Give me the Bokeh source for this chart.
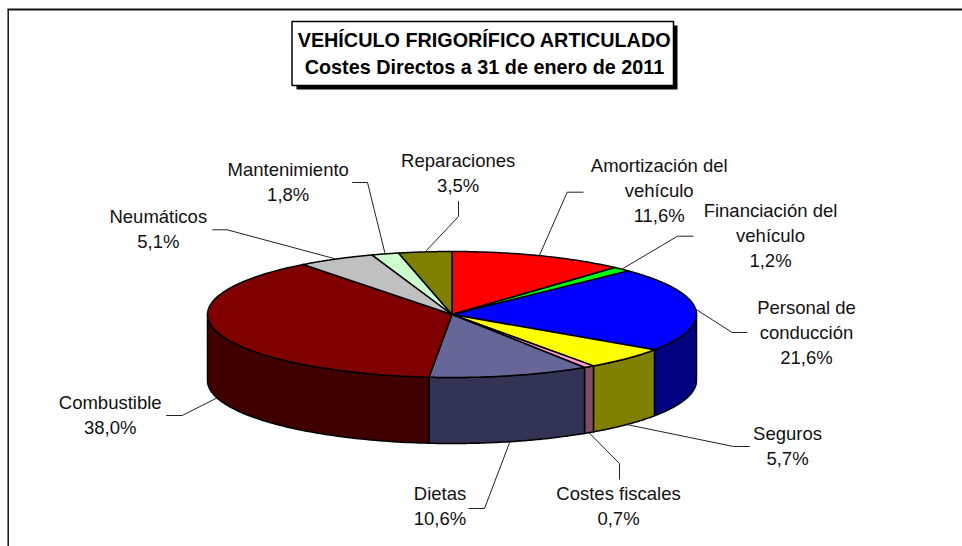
import numpy as np
from bokeh.plotting import figure
from bokeh.models import Range1d
from bokeh.core.properties import value
from bokeh.embed import file_html
from bokeh.resources import INLINE

# Data
categories = ["Amortización del vehículo", "Financiación del vehículo", "Personal de conducción",
              "Seguros", "Costes fiscales", "Dietas", "Combustible", "Neumáticos",
              "Mantenimiento", "Reparaciones"]
shares = [11.6, 1.2, 21.6, 5.7, 0.7, 10.6, 38.0, 5.1, 1.8, 3.5]
share_labels = ["11,6%", "1,2%", "21,6%", "5,7%", "0,7%", "10,6%", "38,0%", "5,1%", "1,8%", "3,5%"]
label_lines = [["Amortización del", "vehículo"], ["Financiación del", "vehículo"],
               ["Personal de", "conducción"], ["Seguros"], ["Costes fiscales"], ["Dietas"],
               ["Combustible"], ["Neumáticos"], ["Mantenimiento"], ["Reparaciones"]]
title_lines = ["VEHÍCULO FRIGORÍFICO ARTICULADO", "Costes Directos a 31 de enero de 2011"]

# Styles
top_colors = ["#ff0000", "#00ff00", "#0000ff", "#ffff00", "#ff99cc", "#666699", "#800000", "#c0c0c0", "#ccffcc", "#808000"]
side_colors = ["#800000", "#008000", "#000080", "#808000", "#804d66", "#333355", "#400000", "#606060", "#668066", "#404000"]

# Layout (page pixels)
CX, CY, RX, RY, DEPTH = 451.5, 314.0, 244.5, 63.0, 66.0
label_x = [658.7, 770, 806, 787, 618, 439.5, 109.7, 157.8, 287.7, 457.7]
label_y = [165, 210, 307, 433, 493, 493, 402, 216, 169, 160]
LINE_H = 25
elbows = [(566.7, 191.7, 583), (677, 235.7, 693), (731.7, 332, 746.7), (733, 446, 749.3),
          (619, 463, 619), (484, 508, 468), (181.7, 415, 165.7), (226.7, 229.3, 211.7),
          (367, 182, 351.7), (458, 216, 458)]
ends_y = [191.7, 235.7, 332, 446, 479, 508, 415, 229.3, 182, 200.7]

p = figure(width=962, height=546, output_backend="svg", toolbar_location=None,
           x_range=Range1d(0, 962), y_range=Range1d(546, 0), min_border=0,
           outline_line_color=None, background_fill_color="#ffffff", border_fill_color="#ffffff")
p.axis.visible = False
p.grid.visible = False

# Frame
p.line([7.7, 7.7], [546, 9], line_color="#111111", line_width=1.5)
p.line([7, 962], [9, 9], line_color="#111111", line_width=2)

# Angles clockwise from 12 o'clock
vals = np.array(shares, dtype=float)
edges = np.concatenate([[0], np.cumsum(vals)]) / vals.sum() * 2 * np.pi
ex = lambda a: CX + RX * np.sin(a)
ey = lambda a: CY - RY * np.cos(a)

# Walls (front half only)
for i in range(len(vals)):
    a0, a1 = max(edges[i], np.pi / 2), min(edges[i + 1], 3 * np.pi / 2)
    if a1 <= a0:
        continue
    t = np.linspace(a0, a1, 80)
    xs = np.concatenate([ex(t), ex(t[::-1])])
    ys = np.concatenate([ey(t), ey(t[::-1]) + DEPTH])
    p.patch(xs, ys, fill_color=side_colors[i], line_color="#000000", line_width=1.5, line_join="round")

# Top slices
for i in range(len(vals)):
    t = np.linspace(edges[i], edges[i + 1], 60)
    xs = np.concatenate([[CX], ex(t)])
    ys = np.concatenate([[CY], ey(t)])
    p.patch(xs, ys, fill_color=top_colors[i], line_color="#000000", line_width=1.5, line_join="round")

# Leader lines: start on the slice's mid-angle
for i in range(len(vals)):
    m = (edges[i] + edges[i + 1]) / 2
    x0, y0 = ex(m), ey(m)
    if np.pi / 2 < m < 3 * np.pi / 2 and i != 2:
        y0 += DEPTH
    ex1, ey1, ex2 = elbows[i]
    p.line([x0, ex1, ex2], [y0, ey1, ends_y[i]], line_color="#222222", line_width=1)

# Labels
tx, ty, tt = [], [], []
for i in range(len(vals)):
    lines = label_lines[i] + [share_labels[i]]
    for j, s in enumerate(lines):
        tx.append(label_x[i]); ty.append(label_y[i] + j * LINE_H); tt.append(s)
p.text(tx, ty, text=tt, text_align="center", text_baseline="middle",
       text_font=value("Liberation Sans"), text_font_size="18.5px", text_color="#111111")

# Title box
p.quad(left=[296], right=[677], top=[25], bottom=[89], fill_color="#000000", line_color=None)
p.quad(left=[291.5], right=[673], top=[21], bottom=[85], fill_color="#ffffff", line_color="#000000", line_width=1.5)
p.text([484, 484], [39, 66], text=title_lines, text_align="center", text_baseline="middle",
       text_font=value("Liberation Sans"), text_font_style="bold", text_font_size="19.8px", text_color="#000000")

open("out.html", "w").write(file_html(p, INLINE))
